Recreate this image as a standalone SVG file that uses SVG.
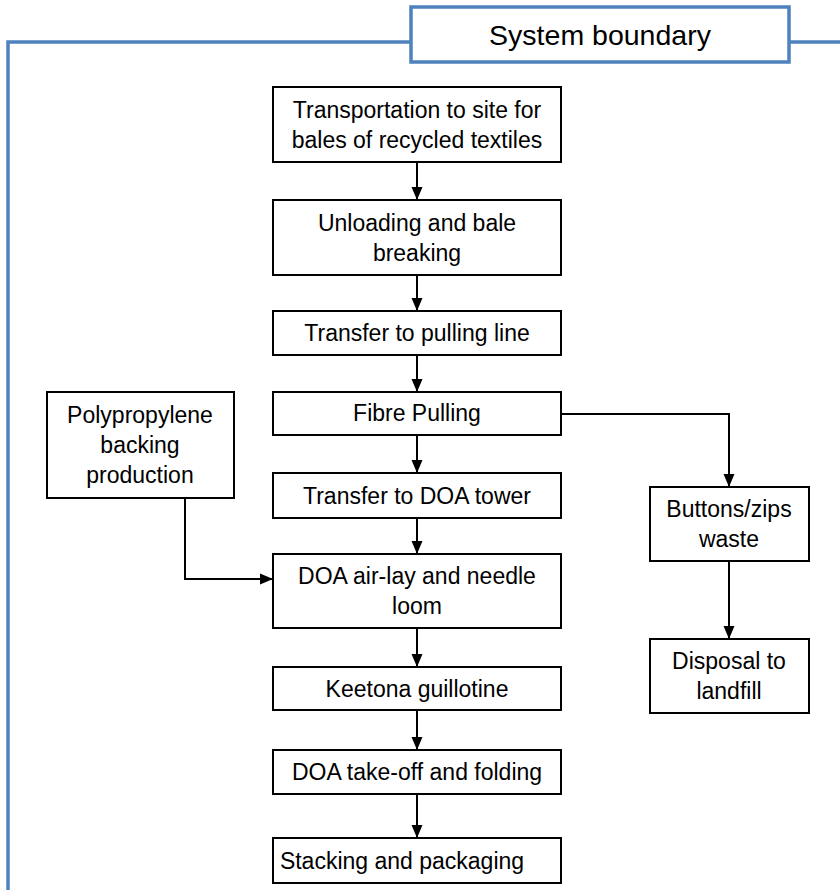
<svg xmlns="http://www.w3.org/2000/svg" width="840" height="890" viewBox="0 0 840 890">
<style>
.box{fill:#fff;stroke:#000;stroke-width:2}
.t{font-family:"Liberation Sans",Arial,sans-serif;font-size:23px;fill:#000;text-anchor:middle}
.c{fill:none;stroke:#000;stroke-width:2}
.b{fill:none;stroke:#4F81BD;stroke-width:3.5}
</style>
<defs>
<marker id="ah" markerUnits="userSpaceOnUse" markerWidth="14" markerHeight="14" viewBox="0 0 14 14" refX="13" refY="7" orient="auto">
<path d="M0,1.5 L13,7 L0,12.5 Z" fill="#000"/>
</marker>
</defs>
<rect width="840" height="890" fill="#fff"/>
<g id="boundary">
<path class="b" d="M8,890 V42 H411 M789,42 H840"/>
<rect x="411" y="7" width="378" height="55" fill="#fff" stroke="#4F81BD" stroke-width="3.5"/>
<text x="600" y="45" font-family="'Liberation Sans',Arial,sans-serif" font-size="28.5" text-anchor="middle">System boundary</text>
</g>
<g id="connectors">
<path class="c" marker-end="url(#ah)" d="M417,162 V200"/>
<path class="c" marker-end="url(#ah)" d="M417,275 V311"/>
<path class="c" marker-end="url(#ah)" d="M417,355 V392"/>
<path class="c" marker-end="url(#ah)" d="M417,435 V473"/>
<path class="c" marker-end="url(#ah)" d="M417,518 V554"/>
<path class="c" marker-end="url(#ah)" d="M417,628 V667"/>
<path class="c" marker-end="url(#ah)" d="M417,710 V750"/>
<path class="c" marker-end="url(#ah)" d="M417,794 V838"/>
<path class="c" marker-end="url(#ah)" d="M185,498 V579 H273"/>
<path class="c" marker-end="url(#ah)" d="M562,414 H729 V487"/>
<path class="c" marker-end="url(#ah)" d="M729,561 V639"/>
</g>
<g id="n1"><rect class="box" x="273" y="87" width="288" height="75"/><text class="t" x="417" y="118">Transportation to site for</text><text class="t" x="417" y="148">bales of recycled textiles</text></g>
<g id="n2"><rect class="box" x="273" y="200" width="288" height="75"/><text class="t" x="417" y="231">Unloading and bale</text><text class="t" x="417" y="261">breaking</text></g>
<g id="n3"><rect class="box" x="273" y="311" width="288" height="44"/><text class="t" x="417" y="341">Transfer to pulling line</text></g>
<g id="n4"><rect class="box" x="273" y="392" width="288" height="43"/><text class="t" x="417" y="421">Fibre Pulling</text></g>
<g id="n5"><rect class="box" x="273" y="473" width="288" height="45"/><text class="t" x="417" y="504">Transfer to DOA tower</text></g>
<g id="n6"><rect class="box" x="273" y="554" width="288" height="74"/><text class="t" x="417" y="584">DOA air-lay and needle</text><text class="t" x="417" y="614">loom</text></g>
<g id="n7"><rect class="box" x="273" y="667" width="288" height="43"/><text class="t" x="417" y="697">Keetona guillotine</text></g>
<g id="n8"><rect class="box" x="273" y="750" width="288" height="44"/><text class="t" x="417" y="780">DOA take-off and folding</text></g>
<g id="n9"><rect class="box" x="273" y="838" width="288" height="45"/><text class="t" x="402" y="869">Stacking and packaging</text></g>
<g id="n10"><rect class="box" x="47" y="392" width="187" height="106"/><text class="t" x="140" y="423">Polypropylene</text><text class="t" x="140" y="453">backing</text><text class="t" x="140" y="483">production</text></g>
<g id="n11"><rect class="box" x="650" y="487" width="159" height="74"/><text class="t" x="729" y="517">Buttons/zips</text><text class="t" x="729" y="547">waste</text></g>
<g id="n12"><rect class="box" x="650" y="639" width="159" height="74"/><text class="t" x="729" y="669">Disposal to</text><text class="t" x="729" y="699">landfill</text></g>
</svg>
